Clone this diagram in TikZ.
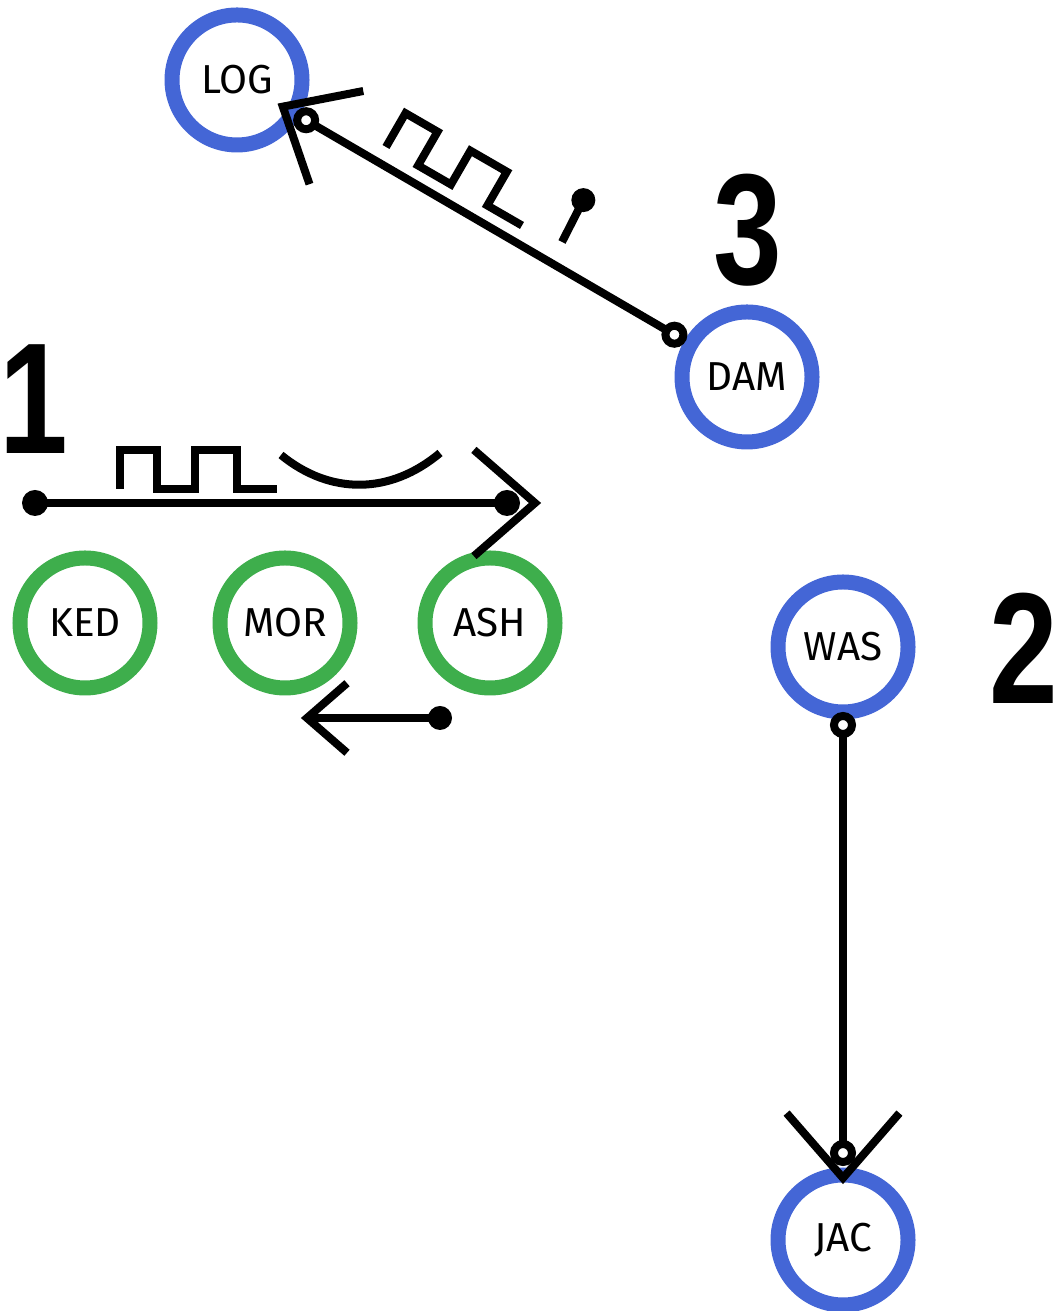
\documentclass[tikz,border=0pt]{standalone}
\usepackage{fontspec}
\setmainfont{Fira Sans}
\newfontfamily\numfont{Liberation Sans}
\usetikzlibrary{calc}
\definecolor{ringblue}{RGB}{68,102,214}
\definecolor{ringgreen}{RGB}{62,174,76}
\tikzset{
	ring/.style={circle, draw=#1, line width=0.15cm, minimum size=1.30cm, inner sep=0pt, font=\fontsize{11.5}{12}\selectfont},
	wire/.style={line width=0.08cm},
	bignum/.style={inner sep=0pt, font=\fontsize{45}{45}\selectfont\numfont\bfseries}
}
\def\barb(#1)(#2:#3){\draw[wire] ($(#1)+(#2+139:#3)$) -- (#1) -- ($(#1)+(#2-139:#3)$);}
\def\sqwave[#1](#2){\draw[wire,#1] (#2) -- ++(0,0.39) -- ++(0.37,0) -- ++(0,-0.39) -- ++(0.38,0) -- ++(0,0.39) -- ++(0.42,0) -- ++(0,-0.39) -- ++(0.40,0);}
\def\wireend(#1){\draw[line width=0.08cm, fill=white] (#1) circle (0.09);}
\def\narrow#1{\scalebox{0.78}[1]{#1}}

\begin{document}
\begin{tikzpicture}
				\useasboundingbox (0,0) rectangle (10.61,13.11);
				
				\node[ring=ringblue] (log) at (2.37,12.31) {LOG};
				\node[ring=ringblue] (dam) at (7.47,9.34) {DAM};
				\node[ring=ringgreen] (ked) at (0.85,6.88) {KED};
				\node[ring=ringgreen] (mor) at (2.85,6.88) {MOR};
				\node[ring=ringgreen] (ash) at (4.90,6.88) {ASH};
				\node[ring=ringblue] (was) at (8.43,6.64) {WAS};
				\node[ring=ringblue] (jac) at (8.43,0.71) {JAC};
				
				\node[bignum] (num1) at (0.34,9.12) {\narrow{1}};
				\node[bignum] (num2) at (10.24,6.63) {\narrow{2}};
				\node[bignum] (num3) at (7.48,10.81) {\narrow{3}};
				
				% 1: along the top of the green row
				\coordinate (a1) at (0.35,8.08);
				\coordinate (b1) at (5.07,8.08);
				\coordinate (t1) at (5.35,8.08);
				\draw[wire] (a1) -- (b1);
				\fill (a1) circle (0.13);
				\fill (b1) circle (0.13);
				\barb(t1)(0:0.81)
				\coordinate (w1) at (1.20,8.22);
				\sqwave[](w1)
				\draw[wire] (2.81,8.56) .. controls (3.30,8.16) and (3.90,8.16) .. (4.40,8.58);
				
				% back under the row
				\coordinate (a4) at (4.40,5.93);
				\coordinate (t4) at (3.07,5.93);
				\draw[wire] (a4) -- (t4);
				\fill (a4) circle (0.12);
				\barb(t4)(180:0.53)
				
				% 2: was to jac
				\coordinate (a2) at ($(was)!0.78cm!(jac)$);
				\coordinate (b2) at ($(jac)!0.87cm!(was)$);
				\coordinate (t2) at ($(jac)!0.62cm!(was)$);
				\draw[wire] (a2) -- (b2);
				\wireend(a2)
				\wireend(b2)
				\barb(t2)(-90:0.86)
				
				% 3: dam to log
				\coordinate (a3) at ($(dam)!0.84cm!(log)$);
				\coordinate (b3) at ($(log)!0.80cm!(dam)$);
				\coordinate (t3) at ($(log)!0.53cm!(dam)$);
				\draw[wire] (a3) -- (b3);
				\wireend(a3)
				\wireend(b3)
				\barb(t3)(150:0.82)
				\coordinate (w3) at (3.86,11.64);
				\sqwave[rotate=-30](w3)
				\coordinate (p3) at (5.62,10.69);
				\draw[wire] (p3) -- ++(63:0.47) coordinate (q3);
				\fill (q3) circle (0.12);
			\end{tikzpicture}
\end{document}
